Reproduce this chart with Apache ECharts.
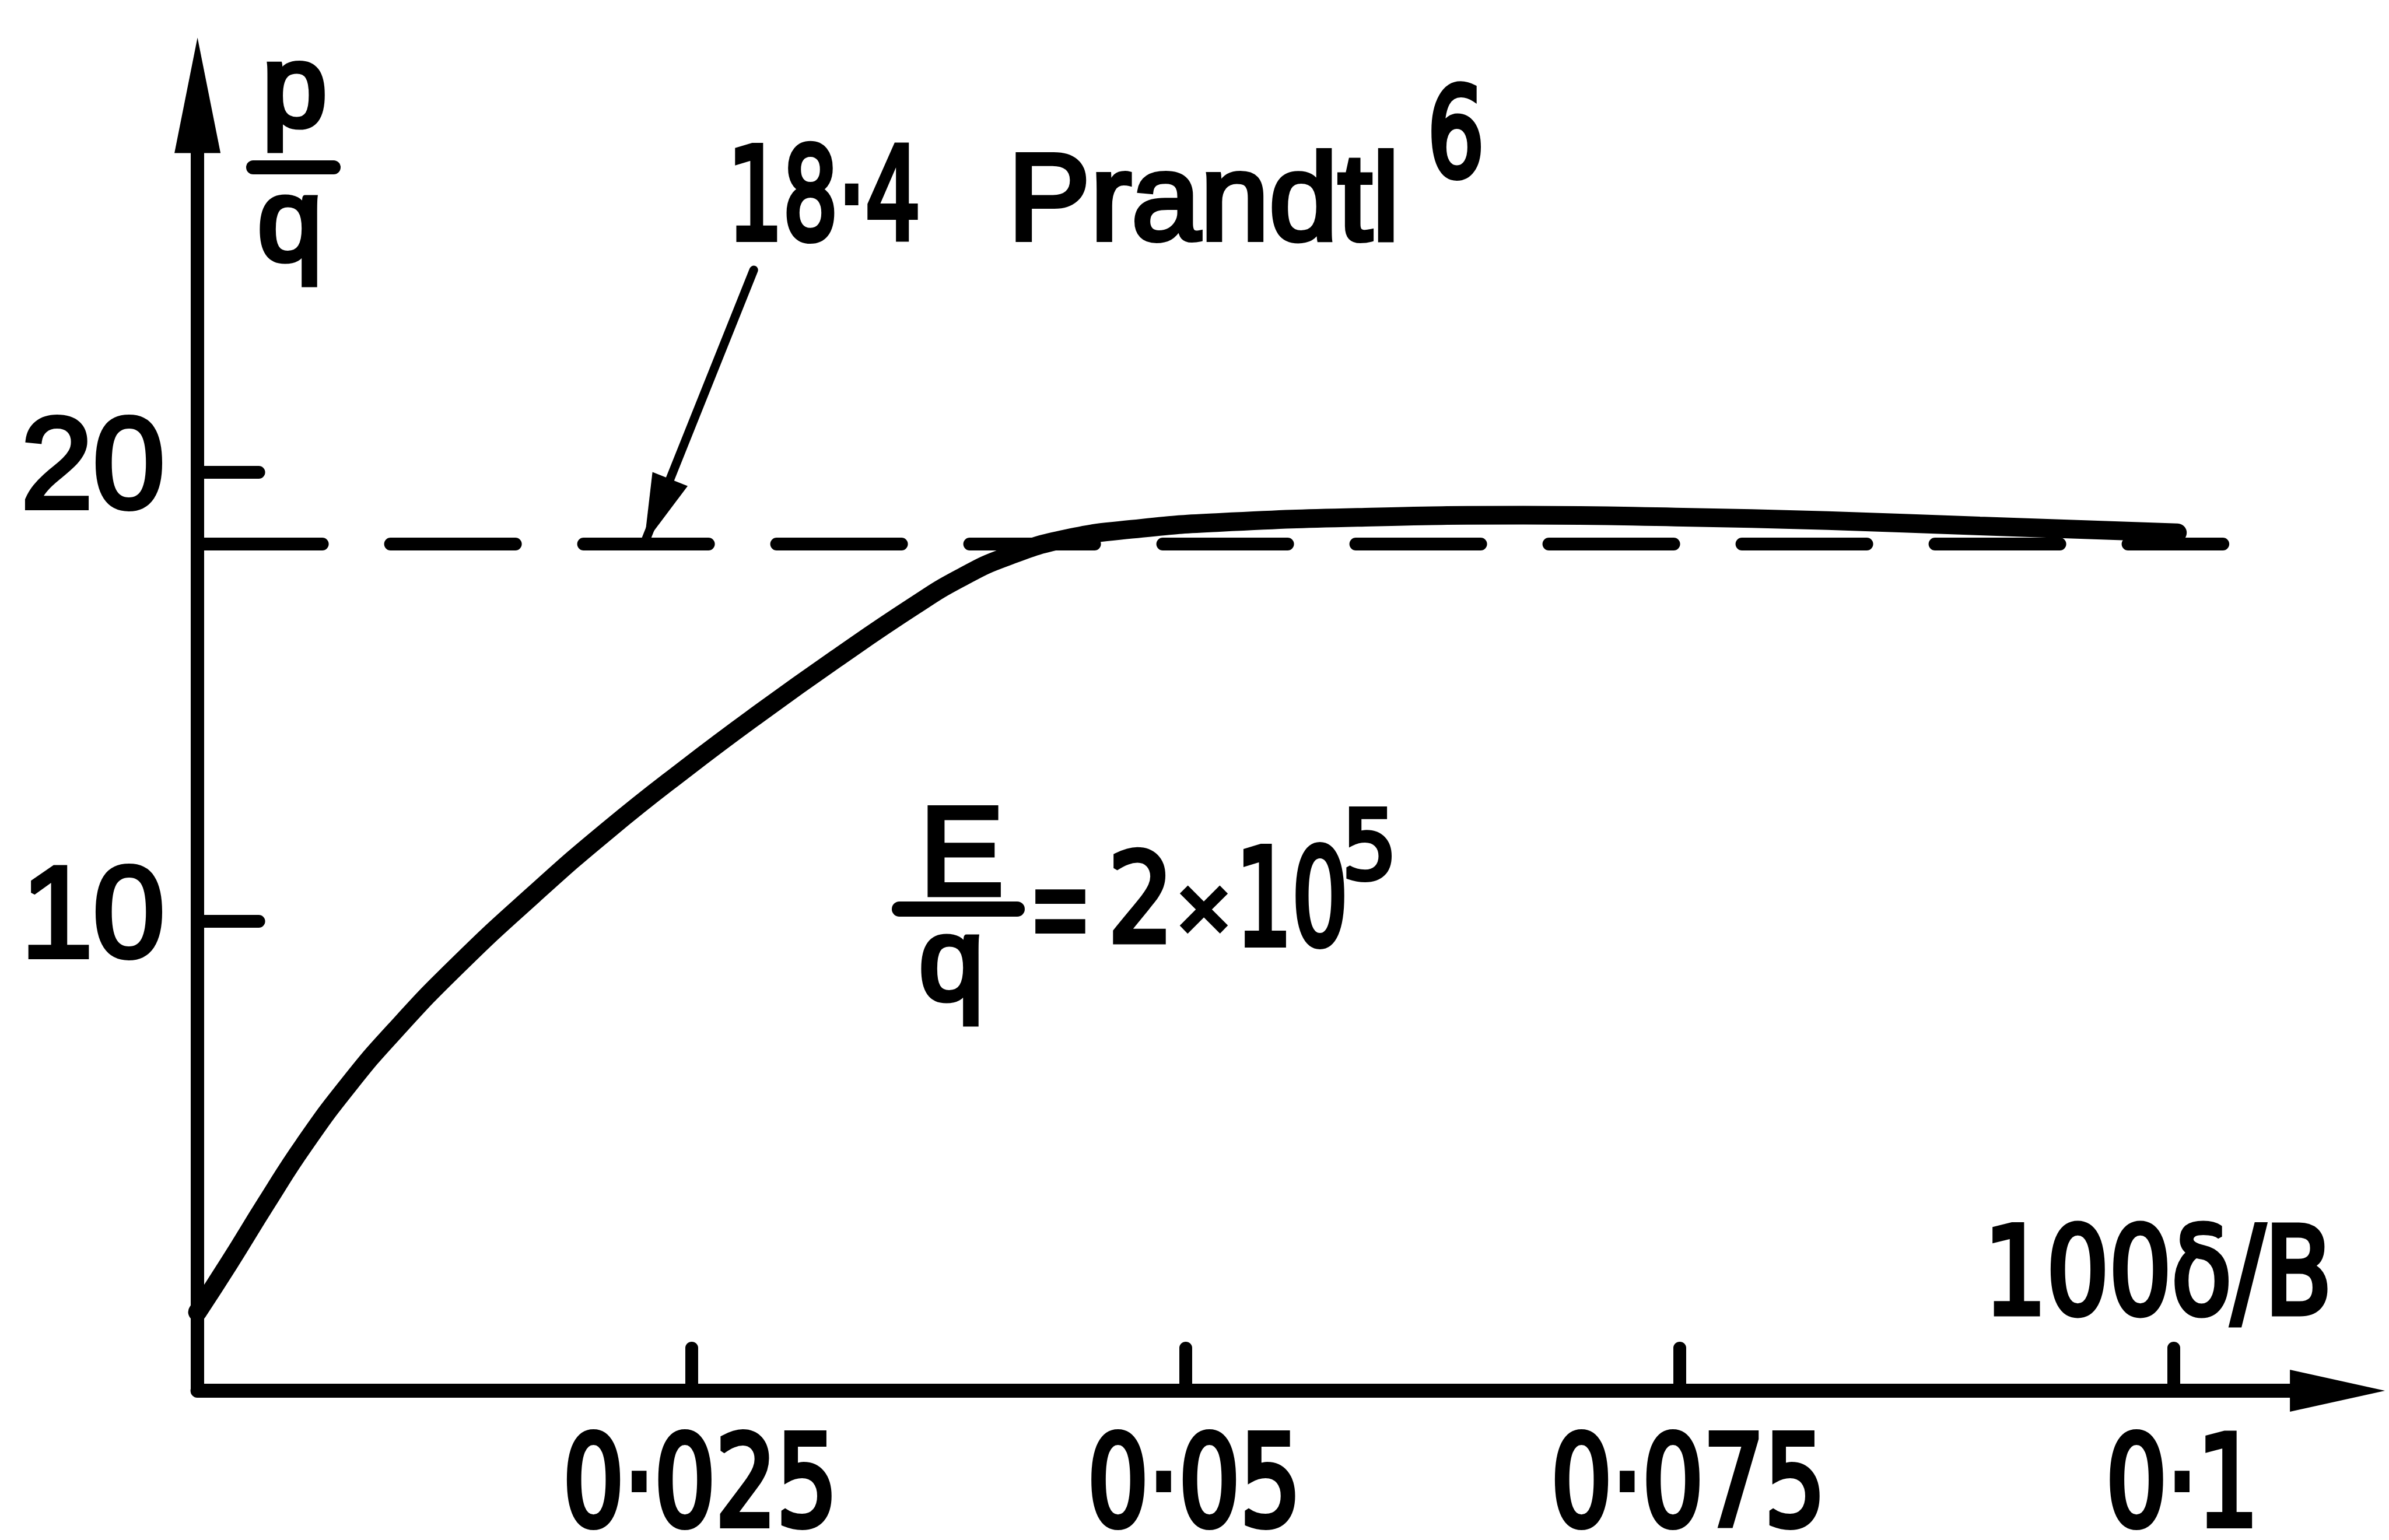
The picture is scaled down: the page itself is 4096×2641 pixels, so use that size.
<!DOCTYPE html>
<html>
<head>
<meta charset="utf-8">
<title>p/q against 100δ/B</title>
<script src="https://cdn.jsdelivr.net/npm/echarts@6/dist/echarts.min.js"></script>
<style>
  html, body { margin: 0; padding: 0; background: #fff; }
  #chart { width: 4096px; height: 2641px; }
</style>
</head>
<body>
<div id="chart"></div>
<script>
// ---- data ----
const xTickValues = [0.025, 0.05, 0.075, 0.1];
const xTickLabels = ['0·025', '0·05', '0·075', '0·1'];
const yTickValues = [10, 20];
const yTickLabels = ['10', '20'];

// p/q for E/q = 2×10^5
const curveX = [0, 0.0016, 0.0035, 0.0054, 0.0077, 0.0100, 0.0131, 0.0170, 0.0208, 0.0247,
                0.0285, 0.0324, 0.0363, 0.0386, 0.0409, 0.0440, 0.0478, 0.0517, 0.0594,
                0.0671, 0.0748, 0.0825, 0.0902, 0.1002];
const curveY = [1.3, 2.39, 3.74, 5.03, 6.39, 7.57, 8.99, 10.59, 12.04, 13.4,
                14.65, 15.87, 17.03, 17.64, 18.11, 18.52, 18.75, 18.88, 19.0,
                19.04, 19.0, 18.92, 18.8, 18.65];

// Prandtl's value
const prandtlValue = 18.4;
const prandtlX = [0, 0.1025];

// pointer from the "18·4 Prandtl" note down to the dashed line
const pointerTail = [0.02815, 24.5];
const pointerTipX = 0.0226;

// ---- styling ----
const COND = '"DejaVu Sans Condensed", "DejaVu Sans", sans-serif';
const REGULAR = '"Liberation Sans", "DejaVu Sans", sans-serif';
const INK = '#000';

function note(text, x, y, size, family, opts) {
  opts = opts || {};
  const align = opts.align || 'center';
  return {
    type: 'text', x: x, y: y, scaleX: opts.sx || 1, silent: true, z: 50,
    style: {
      text: text, fill: INK, stroke: INK, lineWidth: opts.lw || 7,
      font: size + 'px ' + family,
      align: align, verticalAlign: 'middle',
      textAlign: align, textVerticalAlign: 'middle'
    }
  };
}
function bar(x1, x2, y, w) {
  return {
    type: 'line', silent: true, z: 50,
    shape: { x1: x1, y1: y, x2: x2, y2: y },
    style: { stroke: INK, lineWidth: w, lineCap: 'round' }
  };
}

const Y_MIN = -0.45;
const chart = echarts.init(document.getElementById('chart'), null, { renderer: 'canvas' });

chart.setOption({
  backgroundColor: '#fff',
  animation: false,
  grid: { left: 338.6, top: 163.4, width: 3669, height: 2221.5, containLabel: false },
  xAxis: {
    type: 'value', min: 0, max: 0.1083,
    axisLine: {
      onZero: false,
      lineStyle: { color: INK, width: 24 },
      symbol: ['none', 'triangle'], symbolSize: [72, 163]
    },
    axisTick: {
      customValues: xTickValues, inside: true, length: 73,
      lineStyle: { color: INK, width: 22, cap: 'round' }
    },
    // tick labels are set as condensed text below, at the axis positions
    axisLabel: { show: false },
    splitLine: { show: false }
  },
  yAxis: {
    type: 'value', min: Y_MIN, max: 28.39,
    axisLine: {
      lineStyle: { color: INK, width: 23 },
      symbol: ['none', 'triangle'], symbolSize: [79, 198]
    },
    axisTick: {
      customValues: yTickValues, inside: true, length: 105,
      lineStyle: { color: INK, width: 22, cap: 'round' }
    },
    axisLabel: {
      customValues: yTickValues,
      formatter: v => yTickLabels[yTickValues.indexOf(v)],
      fontFamily: REGULAR, fontSize: 222, color: INK,
      textBorderColor: INK, textBorderWidth: 8,
      margin: 56, padding: [20, 0, 0, 0]
    },
    splitLine: { show: false }
  },
  series: [
    {
      name: 'Prandtl', type: 'line', symbol: 'none', silent: true, z: 3,
      data: prandtlX.map(x => [x, prandtlValue]),
      lineStyle: { color: INK, width: 22, type: [214, 117], cap: 'round' },
      markLine: {
        silent: true, animation: false,
        label: { show: false },
        emphasis: { disabled: true },
        lineStyle: { color: INK, width: 15, type: 'solid', cap: 'round' },
        data: [[
          { coord: pointerTail, symbol: 'none' },
          { coord: [pointerTipX, prandtlValue], symbol: 'triangle', symbolSize: [65, 120], symbolOffset: [0, 60] }
        ]]
      }
    },
    {
      name: 'E/q = 2×10^5', type: 'line', symbol: 'none', silent: true, z: 4,
      smooth: 0.5,
      data: curveX.map((x, i) => [x, curveY[i]]),
      lineStyle: { color: INK, width: 32, cap: 'round', join: 'round' }
    }
  ]
});

// x tick labels, placed through the axis scale
const axisPixelY = chart.convertToPixel({ yAxisIndex: 0 }, Y_MIN);
const tickLabelEls = xTickValues.map((v, i) =>
  note(xTickLabels[i], chart.convertToPixel({ xAxisIndex: 0 }, v) + 15, axisPixelY + 175, 215, COND, { sx: 0.85, lw: 10 })
);

chart.setOption({
  graphic: [
    // y-axis title p/q
    note('p', 505, 161, 200, REGULAR, { lw: 9 }),
    bar(434, 572, 287, 24),
    note('q', 497, 391, 200, REGULAR, { lw: 9 }),
    // 18·4 Prandtl⁶
    note('18·4', 1413, 353, 220, COND, { sx: 0.75, lw: 10 }),
    note('Prandtl', 1728, 353, 212, REGULAR, { align: 'left', lw: 8 }),
    note('6', 2496, 247, 212, COND, { sx: 0.8, lw: 10 }),
    // E/q = 2×10⁵
    note('E', 1649, 1475, 215, REGULAR, { lw: 9 }),
    bar(1542, 1744, 1559, 26),
    note('q', 1631, 1659, 200, REGULAR, { lw: 9 }),
    note('=', 1818, 1573, 205, REGULAR, { sx: 0.78, lw: 10 }),
    note('2', 1956, 1560, 212, COND, { sx: 0.93, lw: 9 }),
    note('×', 2064, 1569, 160, REGULAR, { lw: 8 }),
    note('10', 2215, 1560, 230, COND, { sx: 0.73, lw: 10 }),
    note('5', 2348, 1464, 164, COND, { lw: 8 }),
    // x-axis title
    note('100δ/B', 3700, 2199, 208, COND, { sx: 0.9, lw: 9 })
  ].concat(tickLabelEls)
});
</script>
</body>
</html>
